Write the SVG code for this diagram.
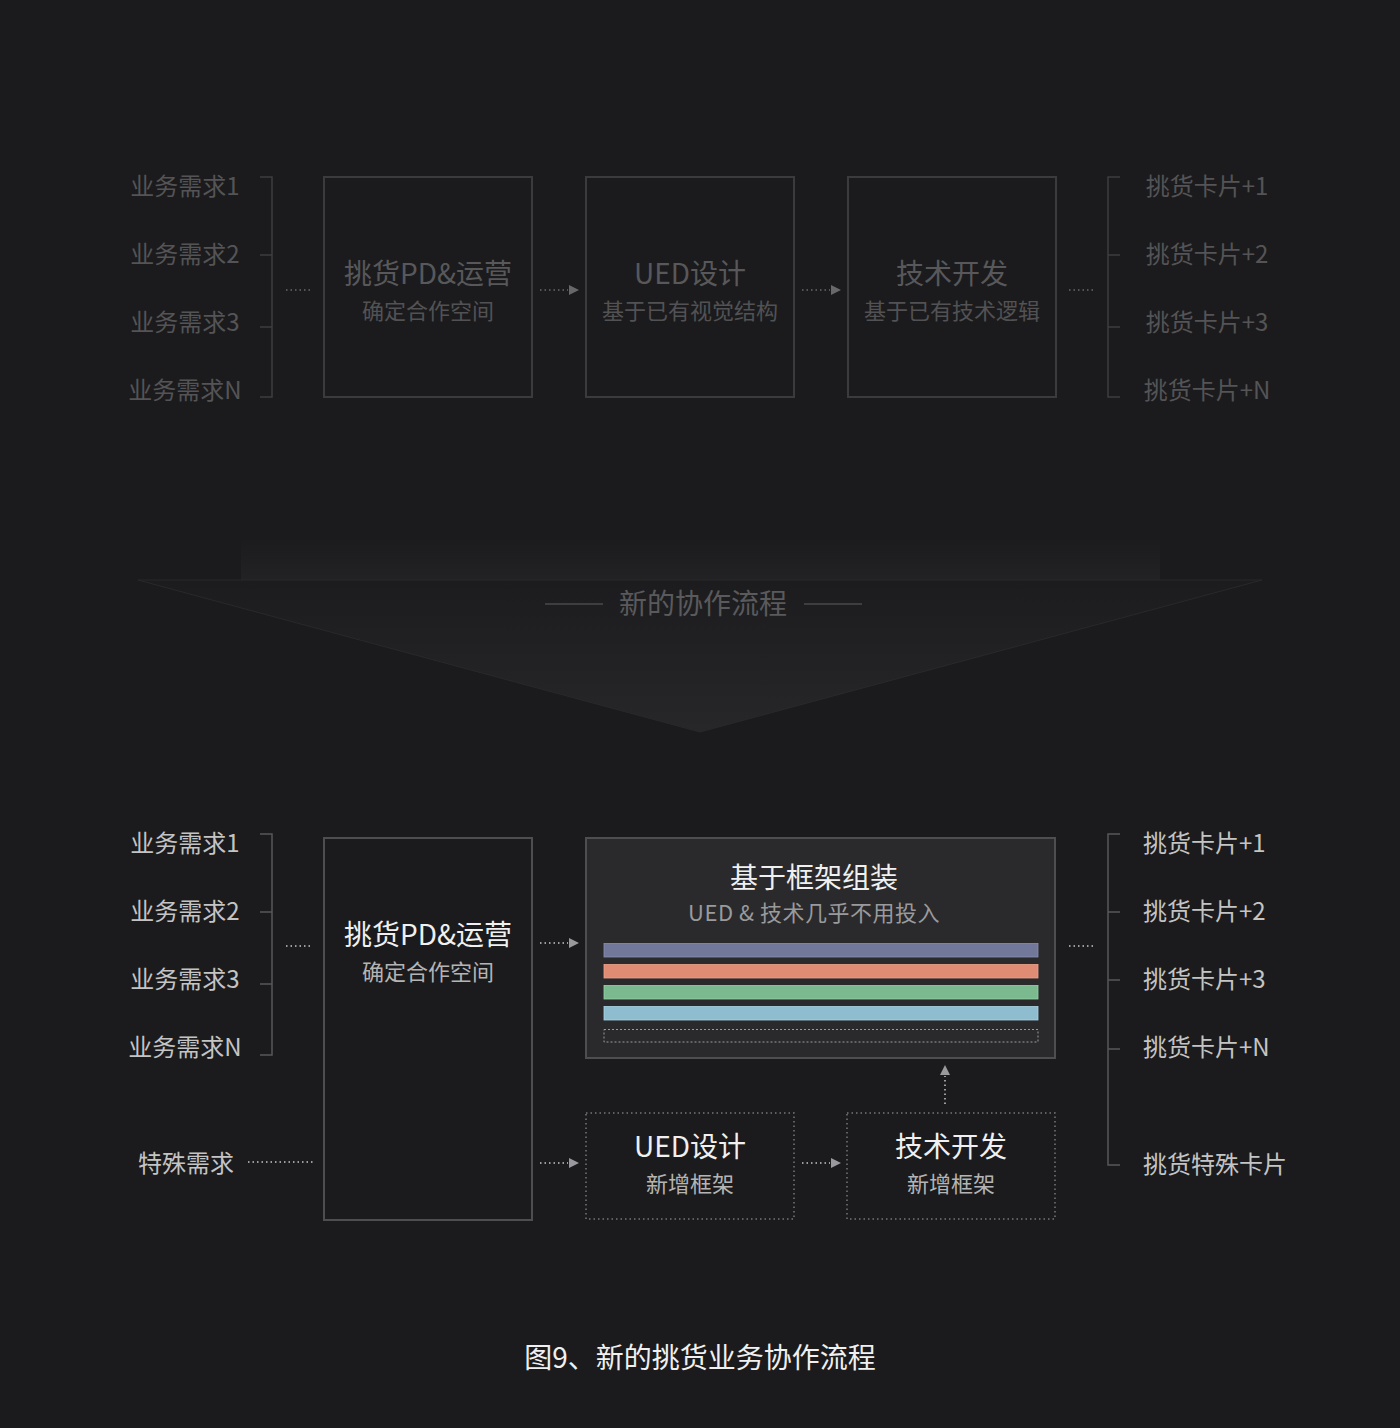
<svg xmlns="http://www.w3.org/2000/svg" width="1400" height="1428" viewBox="0 0 1400 1428">
<defs>
<style>
text{font-family:"Noto Sans CJK SC","Liberation Sans",sans-serif;dominant-baseline:central;}
.dimlab{fill:#545456;font-size:24px;}
.dimt{fill:#58585a;font-size:28px;text-anchor:middle;}
.dims{fill:#525254;font-size:22px;text-anchor:middle;}
.lab{fill:#c4c4c4;font-size:24px;}
.t{fill:#f0f0f0;font-size:28px;text-anchor:middle;}
.s{fill:#b4b4b4;font-size:22px;text-anchor:middle;}
.dimbox{fill:none;stroke:#3b3b3d;stroke-width:2;}
.box{fill:none;stroke:#4e4e50;stroke-width:2;}
.dotbox{fill:none;stroke:#77777a;stroke-width:1.5;stroke-dasharray:1.5 3;}
.dimbr{fill:none;stroke:#3e3e40;stroke-width:1.5;}
.br{fill:none;stroke:#58585a;stroke-width:1.5;}
.dimdot{stroke:#6a6a6c;stroke-width:1.5;stroke-dasharray:1.5 3;}
.dot{stroke:#c8c8c8;stroke-width:1.5;stroke-dasharray:1.5 3;}
.dimtri{fill:#68686a;}
.tri{fill:#9a9a9e;}
</style>
<linearGradient id="ag" x1="0" y1="0" x2="0" y2="1">
<stop offset="0" stop-color="#1c1c1e"/>
<stop offset="1" stop-color="#272729"/>
</linearGradient>
</defs>
<rect width="1400" height="1428" fill="#1b1b1d"/>

<!-- big arrow -->
<g id="transition">
<rect x="241" y="540" width="919" height="40" fill="url(#ag)" opacity="0.6"/>
<polygon points="138,580 1262,580 700,732" fill="url(#ag)" stroke="#29292b" stroke-width="1"/>
<line x1="545" y1="604" x2="603" y2="604" stroke="#4a4a4c" stroke-width="1.5"/>
<line x1="804" y1="604" x2="862" y2="604" stroke="#4a4a4c" stroke-width="1.5"/>
<text x="703" y="602" class="dimt" style="fill:#5a5a5c">新的协作流程</text>
</g>

<!-- TOP SECTION -->
<g id="top-inputs">
<text x="185" y="184" class="dimlab" text-anchor="middle">业务需求1</text>
<text x="185" y="252" class="dimlab" text-anchor="middle">业务需求2</text>
<text x="185" y="320" class="dimlab" text-anchor="middle">业务需求3</text>
<text x="185" y="388" class="dimlab" text-anchor="middle">业务需求N</text>
<path class="dimbr" d="M260,177 H272 V397 H260 M260,255 H272 M260,327 H272"/>
</g>
<g id="top-pd">
<rect x="324" y="177" width="208" height="220" class="dimbox"/>
<text x="428" y="272" class="dimt">挑货PD&amp;运营</text>
<text x="428" y="309" class="dims">确定合作空间</text>
</g>
<g id="top-ued">
<rect x="586" y="177" width="208" height="220" class="dimbox"/>
<text x="690" y="272" class="dimt">UED设计</text>
<text x="690" y="309" class="dims">基于已有视觉结构</text>
</g>
<g id="top-dev">
<rect x="848" y="177" width="208" height="220" class="dimbox"/>
<text x="952" y="272" class="dimt">技术开发</text>
<text x="952" y="309" class="dims">基于已有技术逻辑</text>
</g>
<g id="top-outputs">
<path class="dimbr" d="M1120,177 H1108 V397 H1120 M1108,255 H1120 M1108,327 H1120"/>
<text x="1207" y="184" class="dimlab" text-anchor="middle">挑货卡片+1</text>
<text x="1207" y="252" class="dimlab" text-anchor="middle">挑货卡片+2</text>
<text x="1207" y="320" class="dimlab" text-anchor="middle">挑货卡片+3</text>
<text x="1207" y="388" class="dimlab" text-anchor="middle">挑货卡片+N</text>
</g>

<!-- BOTTOM SECTION -->
<g id="bottom-inputs">
<text x="185" y="841" class="lab" text-anchor="middle">业务需求1</text>
<text x="185" y="909" class="lab" text-anchor="middle">业务需求2</text>
<text x="185" y="977" class="lab" text-anchor="middle">业务需求3</text>
<text x="185" y="1045" class="lab" text-anchor="middle">业务需求N</text>
<path class="br" d="M260,834 H272 V1055 H260 M260,912 H272 M260,984 H272"/>
</g>
<g id="special-input">
<text x="186" y="1161" class="lab" text-anchor="middle">特殊需求</text>
</g>
<g id="bottom-pd">
<rect x="324" y="838" width="208" height="382" class="box"/>
<text x="428" y="933" class="t">挑货PD&amp;运营</text>
<text x="428" y="970" class="s">确定合作空间</text>
</g>
<g id="framework">
<rect x="586" y="838" width="469" height="220" fill="#2a2a2c" stroke="#4e4e50" stroke-width="2"/>
<text x="814" y="876" class="t">基于框架组装</text>
<text x="814" y="911" class="s" style="fill:#9a9a9c;letter-spacing:0.5px">UED &amp; 技术几乎不用投入</text>
<rect x="604" y="943.5" width="434" height="13.5" fill="#727899" stroke="#8a90ae" stroke-width="0.8"/>
<rect x="604" y="964.5" width="434" height="13.5" fill="#e08c74" stroke="#f0a48c" stroke-width="0.8"/>
<rect x="604" y="985.5" width="434" height="13.5" fill="#7bb98f" stroke="#96d4a8" stroke-width="0.8"/>
<rect x="604" y="1006.5" width="434" height="13.5" fill="#8fbdd0" stroke="#a8d6e8" stroke-width="0.8"/>
<rect x="604" y="1029.5" width="434" height="12.5" fill="none" stroke="#9a9a9c" stroke-width="1" stroke-dasharray="2 2"/>
</g>
<g id="new-ued">
<rect x="586" y="1113" width="208" height="106" class="dotbox"/>
<text x="690" y="1145" class="t">UED设计</text>
<text x="690" y="1182" class="s">新增框架</text>
</g>
<g id="new-dev">
<rect x="847" y="1113" width="208" height="106" class="dotbox"/>
<text x="951" y="1145" class="t">技术开发</text>
<text x="951" y="1182" class="s">新增框架</text>
</g>
<g id="bottom-outputs">
<path class="br" d="M1120,834 H1108 V1165 H1120 M1108,912 H1120 M1108,980 H1120 M1108,1049 H1120"/>
<text x="1143" y="841" class="lab">挑货卡片+1</text>
<text x="1143" y="909" class="lab">挑货卡片+2</text>
<text x="1143" y="977" class="lab">挑货卡片+3</text>
<text x="1143" y="1045" class="lab">挑货卡片+N</text>
<text x="1143" y="1162" class="lab">挑货特殊卡片</text>
</g>

<g id="connectors">
<!-- top -->
<line x1="286" y1="290" x2="313" y2="290" class="dimdot"/>
<line x1="540" y1="290" x2="568" y2="290" class="dimdot"/>
<polygon points="569,285 579,290 569,295" class="dimtri"/>
<line x1="802" y1="290" x2="830" y2="290" class="dimdot"/>
<polygon points="831,285 841,290 831,295" class="dimtri"/>
<line x1="1069" y1="290" x2="1096" y2="290" class="dimdot"/>
<!-- bottom -->
<line x1="286" y1="946" x2="313" y2="946" class="dot"/>
<line x1="540" y1="943" x2="568" y2="943" class="dot"/>
<polygon points="569,938 579,943 569,948" class="tri"/>
<line x1="1069" y1="946" x2="1096" y2="946" class="dot"/>
<line x1="248" y1="1162" x2="315" y2="1162" class="dot"/>
<line x1="540" y1="1163" x2="568" y2="1163" class="dot"/>
<polygon points="569,1158 579,1163 569,1168" class="tri"/>
<line x1="802" y1="1163" x2="830" y2="1163" class="dot"/>
<polygon points="831,1158 841,1163 831,1168" class="tri"/>
<line x1="945" y1="1104" x2="945" y2="1076" class="dot"/>
<polygon points="940,1075 945,1065 950,1075" class="tri"/>
</g>

<g id="caption">
<text x="700" y="1356" class="t">图9、新的挑货业务协作流程</text>
</g>
</svg>
